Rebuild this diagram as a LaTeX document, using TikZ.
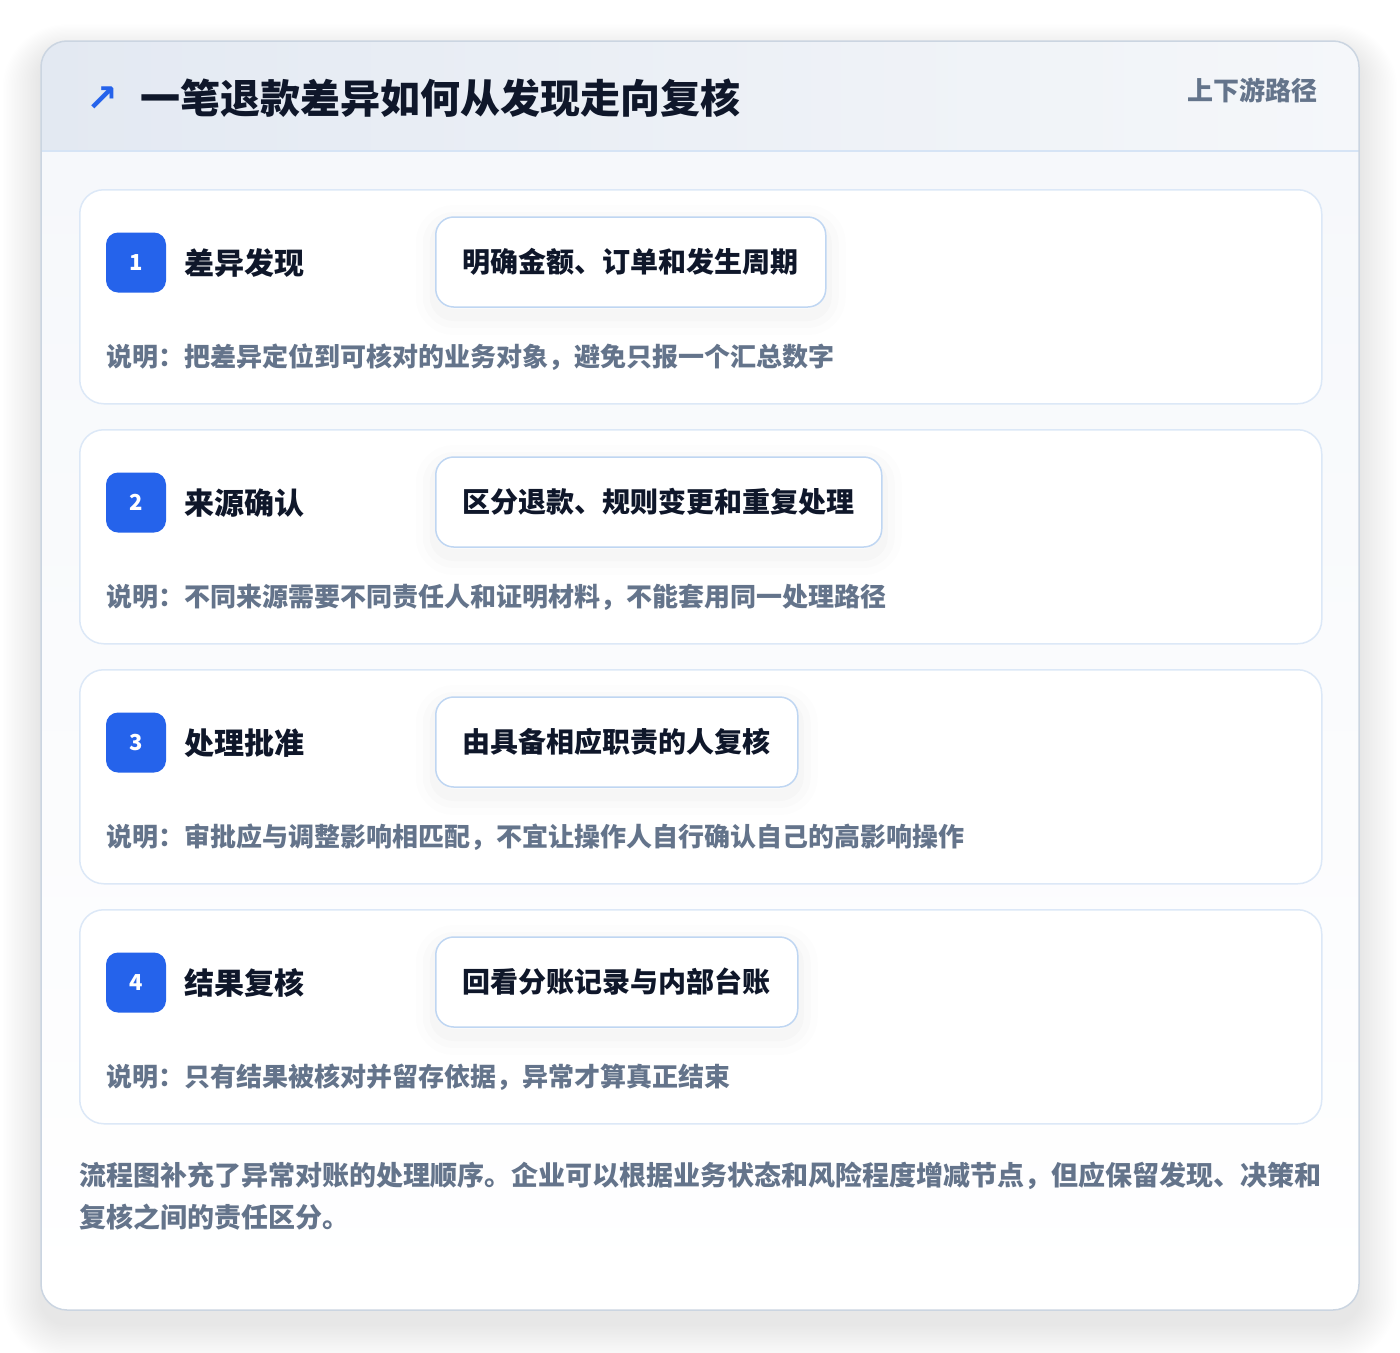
\documentclass[tikz,border=0pt]{standalone}
\usepackage{fontspec}
\setmainfont{Noto Sans CJK SC}
\newfontfamily\symb{DejaVu Sans}

\definecolor{bleu}{HTML}{2563EB}
\definecolor{encre}{HTML}{0F172A}
\definecolor{ardoise}{HTML}{64748B}
\definecolor{bordcarte}{HTML}{DCE8F7}
\definecolor{bordaction}{HTML}{BFD6F2}
\definecolor{cadre}{HTML}{CBD5E1}
\definecolor{tete1}{HTML}{E3E9F2}
\definecolor{tete2}{HTML}{F5F7FA}
\definecolor{liseret}{HTML}{D6E4F5}
\definecolor{fond}{HTML}{F6F8FB}

\begin{document}
\begin{tikzpicture}[x=1pt, y=-1pt,
    carte/.style={draw=bordcarte, line width=1.5pt, fill=white, rounded corners=24pt,
        minimum width=1242pt, minimum height=214pt, inner sep=0pt, anchor=north west},
    pastille/.style={fill=bleu, rounded corners=12pt, minimum size=60pt, inner sep=0pt,
        text=white, font=\fontsize{22}{26}\selectfont\bfseries},
    titre/.style={anchor=west, inner sep=0pt, text=encre, font=\fontsize{30}{36}\selectfont\bfseries},
    action/.style={draw=bordaction, line width=1.5pt, fill=white, rounded corners=18pt,
        minimum height=90pt, inner xsep=27pt, anchor=west, text=encre,
        font=\fontsize{28}{34}\selectfont\bfseries,
        preaction={draw=black, draw opacity=0.009, line width=40pt, transform canvas={yshift=-8pt}},
        preaction={draw=black, draw opacity=0.012, line width=26pt, transform canvas={yshift=-8pt}},
        preaction={draw=black, draw opacity=0.014, line width=12pt, transform canvas={yshift=-8pt}}},
    note/.style={anchor=west, inner sep=0pt, text=ardoise, font=\fontsize{26}{32}\selectfont\bfseries}
]
\useasboundingbox (0,0) rectangle (1400,1352);
\fill[white] (0,0) rectangle (1400,1352);

% Ombre du cadre
\foreach \k in {1,...,24} {
    \fill[black, opacity=0.0042, rounded corners=26pt+1.6*\k]
        (41-1.6*\k,53-1.2*\k) rectangle (1359+1.6*\k,1324+1.6*\k);
}

% Cadre
\begin{scope}
    \clip[rounded corners=26pt] (41,41) rectangle (1359,1310);
    \shade[top color=fond, bottom color=white] (41,151) rectangle (1359,1310);
    \shade[left color=tete1, right color=tete2] (41,41) rectangle (1359,151);
\end{scope}
\draw[liseret, line width=1.5pt] (41,151) -- (1359,151);
\draw[cadre, line width=1.5pt, rounded corners=26pt] (41,41) rectangle (1359,1310);

% Titre
\node[text=bleu, inner sep=0pt, font=\symb\bfseries\fontsize{38}{38}\selectfont] (fleche) at (102,99) {↗};
\node[anchor=west, inner sep=0pt, text=encre, font=\fontsize{40}{48}\selectfont\bfseries] (titre) at (140,98) {一笔退款差异如何从发现走向复核};
\node[anchor=east, inner sep=0pt, text=ardoise, font=\fontsize{26}{32}\selectfont\bfseries] (chemin) at (1318,90) {上下游路径};

% Étapes
\foreach \i/\etape/\geste/\remarque in {
    1/差异发现/明确金额、订单和发生周期/把差异定位到可核对的业务对象，避免只报一个汇总数字,
    2/来源确认/区分退款、规则变更和重复处理/不同来源需要不同责任人和证明材料，不能套用同一处理路径,
    3/处理批准/由具备相应职责的人复核/审批应与调整影响相匹配，不宜让操作人自行确认自己的高影响操作,
    4/结果复核/回看分账记录与内部台账/只有结果被核对并留存依据，异常才算真正结束} {
    \pgfmathsetmacro{\dy}{240*(\i-1)}
    \node[carte] (carte\i) at (79,189+\dy) {};
    \node[pastille] (num\i) at (136,262.5+\dy) {\i};
    \node[titre] (etape\i) at (184,263+\dy) {\etape};
    \node[action] (geste\i) at (435,262+\dy) {\geste};
    \node[note] (note\i) at (106,357+\dy) {说明：\remarque};
}

% Conclusion
\node[anchor=base west, align=left, inner sep=0pt, text=ardoise, font=\fontsize{27}{42}\selectfont\bfseries] (bilan) at (79,1227)
    {流程图补充了异常对账的处理顺序。企业可以根据业务状态和风险程度增减节点，但应保留发现、决策和\\复核之间的责任区分。};

\end{tikzpicture}
\end{document}
